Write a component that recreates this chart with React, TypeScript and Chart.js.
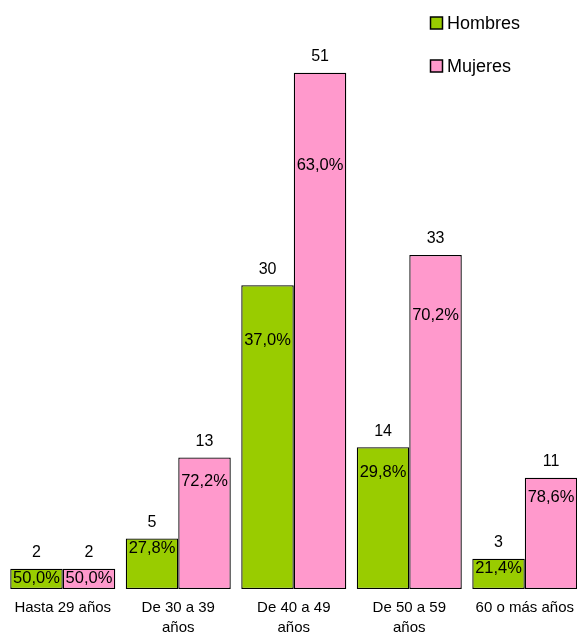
import React, { useEffect, useRef } from "react";
import { Chart, registerables } from "chart.js";

Chart.register(...registerables);

const categories: (string | string[])[] = [
  "Hasta 29 años",
  ["De 30 a 39", "años"],
  ["De 40 a 49", "años"],
  ["De 50 a 59", "años"],
  "60 o más años",
];
const hombres = [2, 5, 30, 14, 3];
const mujeres = [2, 13, 51, 33, 11];
const seriesNames = ["Hombres", "Mujeres"];
const seriesColors = ["#99CC00", "#FF99CC"];

const FONT = "'Liberation Sans', Arial, sans-serif";

const pct = (v: number, o: number) => ((v / (v + o)) * 100).toFixed(1).replace(".", ",") + "%";

const labelPlugin = {
  id: "labels",
  afterDatasetsDraw(chart: any) {
    const ctx = chart.ctx;
    const y = chart.scales.y;
    ctx.save();
    ctx.fillStyle = "#000";
    ctx.textAlign = "center";
    ctx.textBaseline = "middle";
    chart.data.datasets.forEach((ds: any, di: number) => {
      const meta = chart.getDatasetMeta(di);
      const other = chart.data.datasets[1 - di].data;
      meta.data.forEach((bar: any, i: number) => {
        const v = ds.data[i];
        ctx.font = `16px ${FONT}`;
        ctx.fillText(String(v), bar.x, bar.y - 16);
        let py = y.getPixelForValue(v * 0.82);
        py = Math.max(py, bar.y + 10);
        py = Math.min(py, bar.base - 10);
        ctx.font = `16.5px ${FONT}`;
        ctx.fillText(pct(v, other[i]), bar.x, py);
      });
    });
    // legend
    ctx.textAlign = "left";
    ctx.font = `18px ${FONT}`;
    const ys = [23, 66];
    seriesNames.forEach((n, i) => {
      ctx.fillStyle = seriesColors[i];
      ctx.fillRect(430.5, ys[i] - 6, 12, 12);
      ctx.strokeStyle = "#000";
      ctx.lineWidth = 1.5;
      ctx.strokeRect(430.5, ys[i] - 6, 12, 12);
      ctx.fillStyle = "#000";
      ctx.fillText(n, 447, ys[i] + 1);
    });
    ctx.restore();
  },
};

export default function App() {
  const ref = useRef<HTMLCanvasElement>(null);
  useEffect(() => {
    if (!ref.current) return;
    const chart = new Chart(ref.current, {
      type: "bar",
      data: {
        labels: categories,
        datasets: [
          { label: seriesNames[0], data: hombres, backgroundColor: seriesColors[0], borderColor: "#000", borderWidth: 1.3, borderSkipped: false },
          { label: seriesNames[1], data: mujeres, backgroundColor: seriesColors[1], borderColor: "#000", borderWidth: 1.3, borderSkipped: false },
        ],
      },
      options: {
        responsive: false,
        animation: false,
        layout: { padding: { left: 5, right: 0, top: 12, bottom: 0 } },
        datasets: { bar: { categoryPercentage: 0.909, barPercentage: 1 } },
        plugins: { legend: { display: false }, tooltip: { enabled: false } },
        scales: {
          y: { display: false, min: 0, max: 57 },
          x: {
            grid: { display: false, drawTicks: false },
            border: { display: false },
            ticks: {
              color: "#000",
              font: { family: FONT, size: 15, lineHeight: 1.33 },
              padding: 9,
              maxRotation: 0,
              autoSkip: false,
            },
            afterFit: (scale: any) => {
              scale.height = 48;
            },
          },
        },
      },
      plugins: [labelPlugin],
    });
    return () => chart.destroy();
  }, []);
  return (
    <div style={{ position: "absolute", left: 0, top: 0, width: 577, height: 637, overflow: "hidden", background: "#fff" }}>
      <canvas ref={ref} width={583} height={637} style={{ display: "block" }} />
    </div>
  );
}
